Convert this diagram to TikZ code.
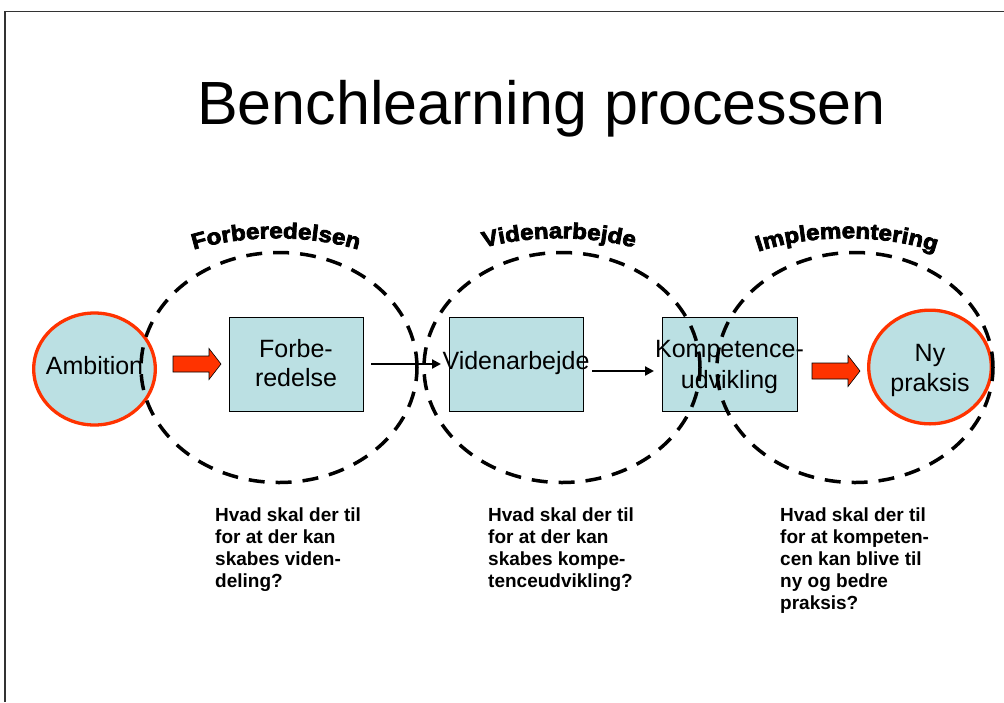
\documentclass[tikz,border=0pt]{standalone}
\usepackage{fontspec}
\setmainfont{Liberation Sans}
\newfontfamily\heavyfont[FakeBold=3.5,FakeStretch=1.1]{Liberation Sans Bold}
\newcommand\archfont{\heavyfont\fontsize{22}{22}\selectfont}
\usetikzlibrary{shapes.geometric,arrows.meta,decorations.text}
\definecolor{boxblue}{RGB}{187,224,227}
\definecolor{arrowred}{RGB}{255,51,0}
\tikzset{
  procbox/.style={draw=black, line width=0.9pt, fill=boxblue,
    minimum width=134pt, minimum height=94pt, inner sep=0pt},
  endpoint/.style={ellipse, draw=arrowred, line width=3.3pt, fill=boxblue,
    inner sep=0pt},
  steptext/.style={inner sep=0pt, align=center, font=\fontsize{25}{29}\selectfont},
  phase/.style={ellipse, draw=black, line width=3.5pt,
    dash pattern=on 16pt off 11pt, minimum width=276pt, minimum height=230pt},
  flow/.style={line width=2.2pt, -{Triangle[length=9pt,width=9pt]}},
  question/.style={anchor=north west, align=left, inner sep=0pt,
    font=\bfseries\fontsize{19}{22}\selectfont},
  blockarrow/.pic={
    \draw[fill=arrowred, line width=0.6pt, line join=miter]
      (0,-8) -- (36,-8) -- (36,-15.5) -- (48,0) -- (36,15.5) -- (36,8) -- (0,8) -- cycle;
  }
}
\begin{document}
\begin{tikzpicture}[x=1pt,y=-1pt]
\useasboundingbox (0,0) rectangle (1004,702);

% slide frame
\draw[line width=1.6pt, black!80] (5,702) -- (5,11.5) -- (1004,11.5);

% title
\node[anchor=base, inner sep=0pt, font=\fontsize{61}{61}\selectfont] (title)
  at (541.5,124) {Benchlearning processen};

% process steps
\node[procbox] (forb) at (296,364) {};
\node[procbox] (viden) at (516,364) {};
\node[procbox, minimum width=135pt] (komp) at (729.5,364) {};
\node[steptext] (forbtext) at (296,363.5) {Forbe-\\redelse};
\node[steptext] (videntext) at (516,363.5) {Videnarbejde};
\node[steptext, font=\fontsize{25}{31}\selectfont] (komptext) at (729.5,367) {Kompetence-\\udvikling};

% start and end
\node[endpoint, minimum width=121.7pt, minimum height=112pt] (amb) at (94.5,369) {};
\node[endpoint, minimum width=122.7pt, minimum height=113.7pt] (ny) at (930,367) {};
\node[steptext] (ambtext) at (94.5,366) {Ambition};
\node[steptext, font=\fontsize{25}{30}\selectfont] (nytext) at (930,370.5) {Ny\\praksis};

% block arrows
\pic at (173,364) {blockarrow};
\pic at (812,371) {blockarrow};

% flow arrows
\coordinate (f1s) at (371,364);
\coordinate (f1e) at (441,364);
\coordinate (f2s) at (592,371);
\coordinate (f2e) at (654,371);
\draw[flow] (f1s) -- (f1e);
\draw[flow] (f2s) -- (f2e);

% phases
\node[phase] (ph1) at (279,367.5) {};
\node[phase] (ph2) at (562,367.5) {};
\node[phase] (ph3) at (855,367.5) {};

% phase headings
\path[decorate, decoration={text along path, text align=center,
  text={|\archfont|Forberedelsen}}]
  (181,254) .. controls (236,233) and (316,233) .. (371,254);
\path[decorate, decoration={text along path, text align=center,
  text={|\archfont|Videnarbejde}}]
  (464,254) .. controls (519,233) and (599,233) .. (654,254);
\path[decorate, decoration={text along path, text align=center,
  text={|\archfont|Implementering}}]
  (752,254) .. controls (807,233) and (887,233) .. (942,254);

% questions
\node[question] (q1) at (215,508) {Hvad skal der til\\for at der kan\\skabes viden-\\deling?};
\node[question] (q2) at (488,508) {Hvad skal der til\\for at der kan\\skabes kompe-\\tenceudvikling?};
\node[question] (q3) at (780,508) {Hvad skal der til\\for at kompeten-\\cen kan blive til\\ny og bedre\\praksis?};
\end{tikzpicture}
\end{document}
